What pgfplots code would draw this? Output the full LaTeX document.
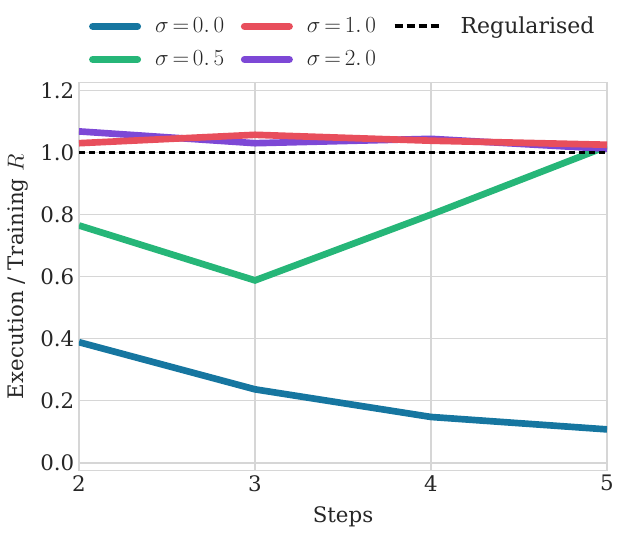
\documentclass[border=0pt]{standalone}
\usepackage{fontspec}
\setmainfont{DejaVu Serif}
\usepackage{pgfplots}
\pgfplotsset{compat=1.18}
\definecolor{cblue}{RGB}{22,118,160}
\definecolor{cgreen}{RGB}{38,182,120}
\definecolor{cred}{RGB}{232,78,92}
\definecolor{cpurple}{RGB}{125,72,214}
\definecolor{cgrid}{RGB}{214,214,214}
\definecolor{ctext}{RGB}{38,38,38}
\begin{document}
\begin{tikzpicture}[font=\fontsize{16pt}{19pt}\selectfont]
\path[use as bounding box] (-59.25pt,-49pt) rectangle (408pt,353pt);
\begin{axis}[
  scale only axis,
  width=396pt, height=291pt,
  xmin=2, xmax=5, ymin=-0.025, ymax=1.225,
  xtick={2,3,4,5},
  ytick={0,0.2,0.4,0.6,0.8,1.0,1.2},
  yticklabel style={/pgf/number format/fixed, /pgf/number format/fixed zerofill, /pgf/number format/precision=1},
  /pgf/number format/assume math mode=true,
  major tick length=0pt,
  grid=major,
  major grid style={cgrid, line width=1pt},
  axis line style={cgrid, line width=1pt},
  tick label style={ctext},
  label style={ctext},
  xlabel={Steps},
  ylabel={Execution / Training $R$},
  xlabel style={at={(axis description cs:0.5,-0.119)}, anchor=center},
  ylabel style={at={(axis description cs:-0.1155,0.5)}, anchor=center},
  legend columns=3,
  legend style={draw=none, fill=none, at={(axis description cs:0.011,1.182)}, anchor=north west,
    font=\fontsize{16.5pt}{19pt}\selectfont,
    /tikz/every odd column/.append style={column sep=9pt},
    /tikz/every even column/.append style={column sep=11pt}, row sep=8.5pt, text=ctext,
    nodes={inner sep=1.5pt}},
  legend image code/.code={\path[draw=none, fill=none] (0pt,-3pt) rectangle (39pt,3pt); \draw[#1, line cap=round] (2.75pt,0pt) -- (36.25pt,0pt);},
]
\addplot[cblue, line width=5pt, forget plot] coordinates {(2,0.389) (3,0.237) (4,0.148) (5,0.108)};
\addplot[cgreen, line width=5pt, forget plot] coordinates {(2,0.765) (3,0.588) (4,0.800) (5,1.020)};
\addplot[cpurple, line width=5pt, forget plot] coordinates {(2,1.068) (3,1.030) (4,1.044) (5,1.012)};
\addplot[cred, line width=5pt, forget plot] coordinates {(2,1.030) (3,1.057) (4,1.038) (5,1.025)};
\addplot[black, line width=2.3pt, dash pattern=on 4.5pt off 3pt, forget plot] coordinates {(2,1.0) (3,1.0) (4,1.0) (5,1.0)};
\addlegendimage{cblue, line width=5.5pt}
\addlegendentry{$\sigma\,{=}\,0.\,0$}
\addlegendimage{cred, line width=5.5pt}
\addlegendentry{$\sigma\,{=}\,1.\,0$}
\addlegendimage{legend image code/.code={\path[draw=none, fill=none] (0pt,-3pt) rectangle (39pt,3pt); \draw[black, line width=2.8pt, dash pattern=on 6pt off 3pt, line cap=butt] (0pt,0pt) -- (33pt,0pt);}}
\addlegendentry{Regularised}
\addlegendimage{cgreen, line width=5.5pt}
\addlegendentry{$\sigma\,{=}\,0.\,5$}
\addlegendimage{cpurple, line width=5.5pt}
\addlegendentry{$\sigma\,{=}\,2.\,0$}
\end{axis}
\end{tikzpicture}
\end{document}
